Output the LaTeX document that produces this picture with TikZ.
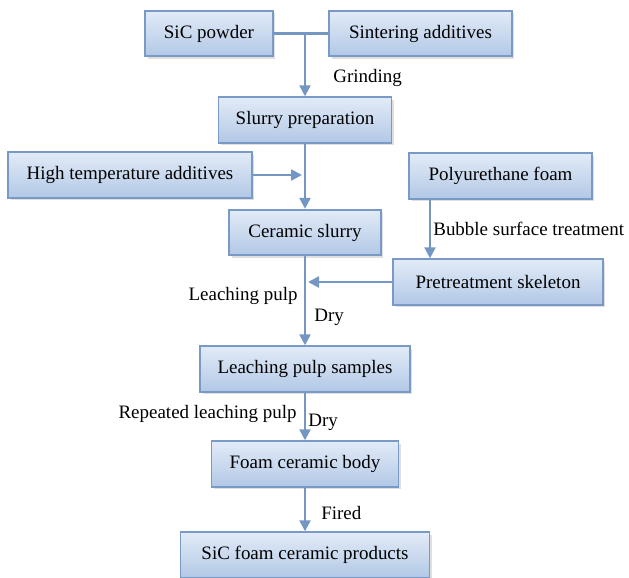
\documentclass[tikz,border=0pt]{standalone}
\usepackage{fontspec}
\setmainfont{Liberation Serif}
\usetikzlibrary{arrows.meta,shadows}
\definecolor{boxline}{RGB}{122,154,198}
\definecolor{boxtop}{RGB}{226,235,247}
\definecolor{boxbot}{RGB}{178,200,230}
\definecolor{arrline}{RGB}{116,150,194}

\begin{document}
\begin{tikzpicture}[x=0.02cm, y=-0.02cm,
    box/.style={draw=boxline, line width=1.1pt, top color=boxtop, bottom color=boxbot,
        minimum height=0.91cm, font=\fontsize{10.8}{13}\selectfont,
        drop shadow={opacity=0.25, shadow xshift=0.05cm, shadow yshift=-0.05cm}},
    arr/.style={draw=arrline, line width=1.3pt, -{Triangle[length=0.22cm,width=0.22cm]}},
    lbl/.style={inner sep=0pt, font=\fontsize{10.8}{13}\selectfont}]
    \useasboundingbox (0,0) rectangle (629,578);

    % Boxes
    \node[box, minimum width=2.56cm] (sic) at (209,33.5) {SiC powder};
    \node[box, minimum width=3.66cm] (sint) at (420.5,33.5) {Sintering additives};
    \node[box, minimum width=3.46cm] (slurry) at (305,120) {Slurry preparation};
    \node[box, minimum width=4.88cm] (hta) at (130,175) {High temperature additives};
    \node[box, minimum width=3.66cm] (pu) at (500.5,176) {Polyurethane foam};
    \node[box, minimum width=3.04cm] (ceramic) at (305,232.5) {Ceramic slurry};
    \node[box, minimum width=4.2cm] (pre) at (498,282) {Pretreatment skeleton};
    \node[box, minimum width=4.2cm] (lps) at (305,369) {Leaching pulp samples};
    \node[box, minimum width=3.74cm] (fcb) at (305,464) {Foam ceramic body};
    \node[box, minimum width=4.98cm] (prod) at (305,555) {SiC foam ceramic products};

    % Joints on the main line
    \coordinate (jtop) at (305,33.5);
    \coordinate (jmid) at (305,175);
    \coordinate (jlow) at (305,282);

    % Connectors
    \draw[arr, -] (sic.east) -- (sint.west);
    \draw[arr] (jtop) -- (slurry.north);
    \draw[arr] (hta.east) -- ([xshift=-0.06cm]jmid);
    \draw[arr] (slurry.south) -- (ceramic.north);
    \draw[arr] ([xshift=-1.41cm]pu.south) -- ([xshift=-1.41cm]pu.south |- pre.north);
    \draw[arr] (ceramic.south) -- (lps.north);
    \draw[arr] (pre.west) -- ([xshift=0.06cm]jlow);
    \draw[arr] (lps.south) -- (fcb.north);
    \draw[arr] (fcb.south) -- (prod.north);

    % Labels
    \node[lbl, anchor=west] (grind) at (333,78) {Grinding};
    \node[lbl, anchor=west] (bubble) at (433,229) {Bubble surface treatment};
    \node[lbl, anchor=east] (leach) at (298,296) {Leaching pulp};
    \node[lbl, anchor=west] (dryA) at (314,317) {Dry};
    \node[lbl, anchor=east] (repeat) at (297,414) {Repeated leaching pulp};
    \node[lbl, anchor=west] (dryB) at (308,422) {Dry};
    \node[lbl, anchor=west] (fired) at (321,513) {Fired};
\end{tikzpicture}
\end{document}
